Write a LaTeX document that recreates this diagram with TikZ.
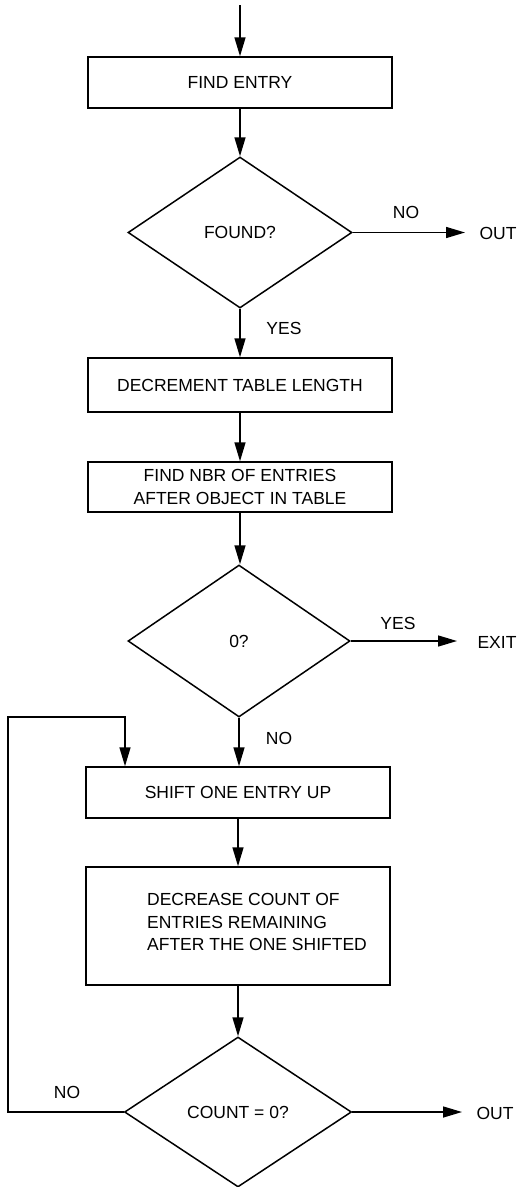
\documentclass[tikz,border=0pt]{standalone}
\usepackage{fontspec}
\setmainfont{Liberation Sans}
\usetikzlibrary{arrows.meta,shapes.geometric}
\begin{document}
\begin{tikzpicture}[x=1pt,y=-1pt,line width=1.5pt,
  txt/.style={font=\fontsize{17.5}{22.5}\selectfont},
  proc/.style={draw,rectangle,minimum width=304pt,inner sep=0pt,align=center,txt},
  dec/.style={draw,diamond,inner sep=0pt,txt},
  lbl/.style={txt,inner sep=0pt},
  arr/.style={-{Triangle[length=19pt,width=11pt]}}]
\useasboundingbox (0,0) rectangle (518,1187);
\coordinate (start) at (240,5);
\node[proc,minimum height=51pt] (b1) at (240,82.5) {FIND ENTRY};
\node[dec,minimum width=224pt,minimum height=151pt] (d1) at (240,232.5) {FOUND?};
\node[proc,minimum height=54pt] (b2) at (240,385) {DECREMENT TABLE LENGTH};
\node[proc,minimum height=50pt] (b3) at (240,487) {FIND NBR OF ENTRIES\\AFTER OBJECT IN TABLE};
\node[dec,minimum width=222pt,minimum height=152pt] (d2) at (239,641) {0?};
\node[proc,minimum height=51pt] (b4) at (238,792.5) {SHIFT ONE ENTRY UP};
\node[proc,minimum height=118pt] (b5) at (238,926) {};
\node[lbl,align=left] (t5) at (257,922) {DECREASE COUNT OF\\ENTRIES REMAINING\\AFTER THE ONE SHIFTED};
\node[dec,minimum width=227pt,minimum height=150pt] (d3) at (238,1112) {COUNT = 0?};
% exits
\node[lbl] (out1) at (498,233) {OUT};
\node[lbl] (exit) at (497,642) {EXIT};
\node[lbl] (out3) at (495,1113) {OUT};
\coordinate (e1) at (465,233);
\coordinate (e2) at (457,642);
\coordinate (e3) at (462,1113);
% labels
\node[lbl] (no1) at (406,212) {NO};
\node[lbl] (yes1) at (284,328) {YES};
\node[lbl] (yes2) at (398,623) {YES};
\node[lbl] (no2) at (279,738) {NO};
\node[lbl] (no3) at (67,1092) {NO};
% connectors
\draw[arr] (start) -- (b1.north);
\draw[arr] (b1.south) -- (d1.north);
\draw[arr] (d1.south) -- (d1.south |- b2.north);
\draw[arr] (b2.south) -- (b2.south |- b3.north);
\draw[arr] (b3.south) -- (b3.south |- d2.north);
\draw[arr] (d2.south) -- (d2.south |- b4.north);
\draw[arr] (b4.south) -- (b5.north);
\draw[arr] (b5.south) -- (d3.north);
\draw[arr] (d1.east) -- (d1.east -| e1);
\draw[arr] (d2.east) -- (d2.east -| e2);
\draw[arr] (d3.east) -- (d3.east -| e3);
\coordinate (lc) at (8,717);
\coordinate (lp) at (125,717);
\draw[arr] (d3.west) -| (lc) -- (lp) -- (lp |- b4.north);
\end{tikzpicture}
\end{document}
